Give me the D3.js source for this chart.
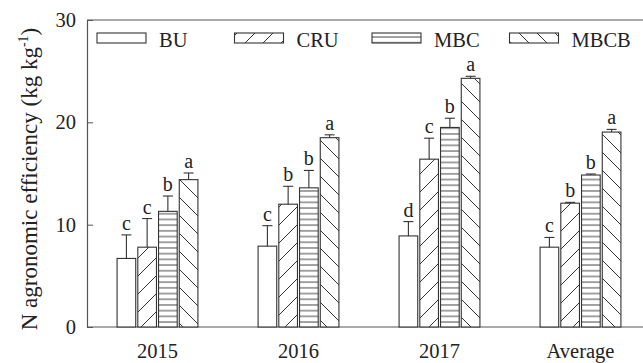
<!DOCTYPE html>
<html>
<head>
<meta charset="utf-8">
<script src="https://cdn.jsdelivr.net/npm/d3@7"></script>
<style>
  html, body { margin: 0; padding: 0; background: #fff; }
  svg { display: block; font-family: "Liberation Serif", "Times New Roman", serif; }
</style>
</head>
<body>
<svg id="chart" width="643" height="363"></svg>
<script>
// Years / average groups and treatments
const groups = ["2015", "2016", "2017", "Average"];
const treatments = ["BU", "CRU", "MBC", "MBCB"];

// Mean N agronomic efficiency (kg kg-1), one array per treatment, in group order
const valuesBU   = [6.7, 7.9, 8.9, 7.8];
const valuesCRU  = [7.8, 12.0, 16.4, 12.1];
const valuesMBC  = [11.3, 13.6, 19.5, 14.85];
const valuesMBCB = [14.4, 18.5, 24.3, 19.05];

// Standard errors (upper whiskers)
const errBU   = [2.3, 2.0, 1.4, 0.95];
const errCRU  = [2.8, 1.75, 2.05, 0.08];
const errMBC  = [1.5, 1.7, 0.9, 0.1];
const errMBCB = [0.65, 0.28, 0.2, 0.26];

// Significance letters
const lettersBU   = ["c", "c", "d", "c"];
const lettersCRU  = ["c", "b", "c", "b"];
const lettersMBC  = ["b", "b", "b", "b"];
const lettersMBCB = ["a", "a", "a", "a"];

const yTicks = [0, 10, 20, 30];

const series = [
  { key: "BU",   values: valuesBU,   err: errBU,   letters: lettersBU,   fill: "#fff" },
  { key: "CRU",  values: valuesCRU,  err: errCRU,  letters: lettersCRU,  fill: "url(#pat-fwd)" },
  { key: "MBC",  values: valuesMBC,  err: errMBC,  letters: lettersMBC,  fill: "url(#pat-hor)" },
  { key: "MBCB", values: valuesMBCB, err: errMBCB, letters: lettersMBCB, fill: "url(#pat-back)" }
];

const svg = d3.select("#chart");
const plotLeft = 87, plotTop = 20, plotBottom = 327;
const ink = "#333";
const fs = 20.5;

const x0 = d3.scaleBand().domain(groups).range([plotLeft, plotLeft + 4 * 141]).paddingInner(0).paddingOuter(0);
const x1 = d3.scaleBand().domain(treatments).range([0, 85]).padding(0.1);
const y = d3.scaleLinear().domain([0, 30]).range([plotBottom, plotTop]);

// hatch patterns
const defs = svg.append("defs");
function hatch(id, size, d, w) {
  const p = defs.append("pattern").attr("id", id).attr("patternUnits", "userSpaceOnUse")
    .attr("width", size).attr("height", size);
  p.append("rect").attr("width", size).attr("height", size).attr("fill", "#fff");
  p.append("path").attr("d", d).attr("stroke", ink).attr("stroke-width", w).attr("fill", "none");
}
hatch("pat-fwd", 18, "M0,18 L18,0 M-4.5,4.5 L4.5,-4.5 M13.5,22.5 L22.5,13.5", 1);
hatch("pat-back", 18, "M0,0 L18,18 M-4.5,13.5 L4.5,22.5 M13.5,-4.5 L22.5,4.5", 1);
hatch("pat-hor", 5.7, "M0,2.85 L5.7,2.85", 0.9);

// frame: top border and axes
svg.append("line").attr("x1", plotLeft).attr("x2", 643).attr("y1", plotTop).attr("y2", plotTop)
  .attr("stroke", "#555").attr("stroke-width", 1.2);
svg.append("line").attr("x1", plotLeft).attr("x2", 643).attr("y1", plotBottom).attr("y2", plotBottom)
  .attr("stroke", "#555").attr("stroke-width", 1.2);

const yAxis = svg.append("g").attr("transform", `translate(${plotLeft},0)`)
  .call(d3.axisLeft(y).tickValues(yTicks).tickSizeInner(-6).tickSizeOuter(0).tickPadding(11));
yAxis.select(".domain").attr("stroke", "#555").attr("stroke-width", 1.2);
yAxis.selectAll(".tick line").attr("stroke", "#555");
yAxis.selectAll(".tick text").attr("font-size", fs).attr("fill", "#222")
  .attr("font-family", "Liberation Serif");

// x labels
svg.append("g").selectAll("text").data(groups).join("text")
  .attr("x", d => x0(d) + x0.bandwidth() / 2)
  .attr("y", 358)
  .attr("text-anchor", "middle").attr("font-size", fs).attr("fill", "#222")
  .text(d => d);

// bars
const groupOffset = (x0.bandwidth() - 85) / 2;
series.forEach(s => {
  const g = svg.append("g");
  const data = groups.map((grp, i) => ({ grp, v: s.values[i], e: s.err[i], l: s.letters[i] }));
  const bx = d => x0(d.grp) + groupOffset + x1(s.key);
  const bw = x1.bandwidth();
  g.selectAll("rect").data(data).join("rect")
    .attr("x", bx).attr("width", bw)
    .attr("y", d => y(d.v)).attr("height", d => y(0) - y(d.v))
    .attr("fill", s.fill).attr("stroke", ink).attr("stroke-width", 1.1);
  g.selectAll("line.eb").data(data).join("line").attr("class", "eb")
    .attr("x1", d => bx(d) + bw / 2).attr("x2", d => bx(d) + bw / 2)
    .attr("y1", d => y(d.v)).attr("y2", d => y(d.v + d.e))
    .attr("stroke", ink).attr("stroke-width", 1.1);
  g.selectAll("line.cap").data(data).join("line").attr("class", "cap")
    .attr("x1", d => bx(d) + bw / 2 - 5).attr("x2", d => bx(d) + bw / 2 + 5)
    .attr("y1", d => y(d.v + d.e)).attr("y2", d => y(d.v + d.e))
    .attr("stroke", ink).attr("stroke-width", 1.1);
  g.selectAll("text").data(data).join("text")
    .attr("x", d => bx(d) + bw / 2).attr("y", d => y(d.v + d.e) - 5)
    .attr("text-anchor", "middle").attr("font-size", 20).attr("fill", "#222")
    .text(d => d.l);
});

// legend
const legend = svg.append("g");
series.forEach((s, i) => {
  const lx = 97 + i * 137.5;
  legend.append("rect").attr("x", lx).attr("y", 33).attr("width", 49).attr("height", 10)
    .attr("fill", s.fill).attr("stroke", ink).attr("stroke-width", 1.1);
  legend.append("text").attr("x", lx + 62).attr("y", 47).attr("font-size", fs).attr("fill", "#222")
    .text(s.key);
});

// y title
const title = svg.append("text")
  .attr("transform", "translate(37,179) rotate(-90)")
  .attr("text-anchor", "middle").attr("font-size", 23).attr("fill", "#222");
title.append("tspan").text("N agronomic efficiency (kg kg");
title.append("tspan").attr("font-size", 14).attr("dy", -9).text("-1");
title.append("tspan").attr("dy", 9).text(")");
</script>
</body>
</html>
